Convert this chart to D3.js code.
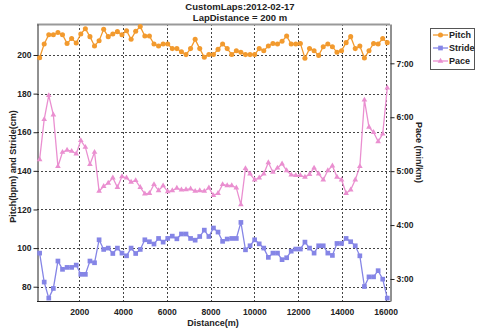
<!DOCTYPE html>
<html><head><meta charset="utf-8">
<script src="https://cdn.jsdelivr.net/npm/d3@7"></script>
<style>body{margin:0;background:#fff}svg{display:block}</style>
</head><body><svg id="c" width="480" height="329"></svg>
<script>
const titleLines = ["CustomLaps:2012-02-17", "LapDistance = 200 m"];
const distance = [190,399,608,817,1026,1235,1444,1653,1862,2071,2280,2489,2698,2907,3116,3325,3534,3743,3952,4161,4370,4579,4788,4997,5206,5415,5624,5833,6042,6251,6460,6669,6878,7087,7296,7505,7714,7923,8132,8341,8550,8759,8968,9177,9386,9595,9804,10013,10222,10431,10640,10849,11058,11267,11476,11685,11894,12103,12312,12521,12730,12939,13148,13357,13566,13775,13984,14193,14402,14611,14820,15029,15238,15447,15656,15865,16074];
const pitch = [198.6,205.7,210.5,210.5,211.6,210.5,206,208.5,206.2,210.9,213.6,209.5,204.7,207.4,213.3,209.5,210.9,212.1,210.5,212.6,208.1,212.3,214.7,209.8,209.8,205.7,204.7,205.7,205.7,203.3,203.3,201.7,200.2,203.3,208.1,203.3,198.8,200.3,200.3,202.9,205.7,203.3,200.3,202.2,201.4,200.2,200.2,200.2,203.3,202.2,204.7,206,205.7,207.1,209.8,205.7,205.7,206,198.3,203.3,202.2,199.8,204.3,205.7,204.3,201.4,202.2,206.4,209.5,203.3,204.7,198.4,202.2,206,205.7,208.5,206.4];
const stride = [97.4,82.4,74.1,79.1,93.3,89.0,90.0,90.0,91.2,86.4,86.4,93.3,92.4,104.3,99.3,100,97.2,100,97.4,96.0,100,97.2,99.3,104.3,103.3,102.1,105.0,103.1,105.0,106.2,104.8,107.3,107.3,105,104.1,106,109.3,106,110.4,108.3,103.5,104.7,105,105,113.3,99.1,101.2,104.3,102.2,100,95.2,97.4,97.4,94,95,98.4,99.5,99.5,103.1,100,97.4,101.2,101.2,97.4,96.2,102.4,102.4,105,103.3,101.2,96,80.1,85.1,85.1,88.3,83.9,74.1];
const pace = [5.216,5.959,6.404,6.045,5.087,5.352,5.39,5.37,5.32,5.57,5.445,5.124,5.352,4.629,4.72,4.78,4.876,4.70,4.90,4.876,4.796,4.827,4.70,4.58,4.59,4.753,4.64,4.73,4.62,4.64,4.685,4.654,4.66,4.672,4.629,4.64,4.629,4.69,4.55,4.59,4.753,4.734,4.734,4.69,4.38,5.05,4.95,4.84,4.876,4.95,5.16,4.98,5.06,5.136,5.012,4.93,4.92,4.92,4.89,4.94,5.06,4.95,4.84,5.012,5.10,4.89,4.84,4.59,4.654,4.84,5.087,6.32,5.816,5.72,5.55,5.69,6.546];
const leftTicks = [80,100,120,140,160,180,200];
const xTicks = [2000,4000,6000,8000,10000,12000,14000,16000];
const paceTicks = [3,4,5,6,7];
const seriesNames = ["Pitch","Stride","Pace"];
const colors = {Pitch:"#f29a2e", Stride:"#8585e6", Pace:"#ea8fd0"};

const FONT = "'Liberation Sans', Arial, sans-serif";
const L = 37, R = 390, T = 24, B = 301;
const svg = d3.select("#c").style("font-family", FONT);

const x = d3.scaleLinear().domain([70, 16198]).range([L, R]);
const yL = d3.scaleLinear().domain([72.6, 216.05]).range([B, T]);
const yR = d3.scaleLinear().domain([2.592, 7.729]).range([B, T]);

svg.append("rect").attr("x", L).attr("y", T).attr("width", R - L).attr("height", B - T).attr("fill", "#fff");

const grid = svg.append("g").attr("stroke", "#444").attr("stroke-width", 1).attr("stroke-dasharray", "2,2");
grid.selectAll("line.v").data(xTicks).join("line")
  .attr("x1", d => Math.round(x(d)) + 0.5).attr("x2", d => Math.round(x(d)) + 0.5)
  .attr("y1", T).attr("y2", B);
grid.selectAll("line.h").data(leftTicks).join("line")
  .attr("y1", d => Math.round(yL(d)) + 0.5).attr("y2", d => Math.round(yL(d)) + 0.5)
  .attr("x1", L).attr("x2", R);

svg.append("line").attr("x1", L).attr("x2", R).attr("y1", T + 0.5).attr("y2", T + 0.5).attr("stroke", "#999").attr("stroke-width", 2);

const tickFont = "bold 8.5px " + FONT;
const gL = svg.append("g").attr("transform", `translate(${L + 0.5},0)`)
  .call(d3.axisLeft(yL).tickValues(leftTicks).tickSize(4).tickPadding(2).tickSizeOuter(0));
const gR = svg.append("g").attr("transform", `translate(${R + 0.5},0)`)
  .call(d3.axisRight(yR).tickValues(paceTicks).tickSize(4).tickPadding(2).tickSizeOuter(0)
    .tickFormat(d => Math.floor(d) + ":" + String(Math.round((d % 1) * 60)).padStart(2, "0")));
const gB = svg.append("g").attr("transform", `translate(0,${B + 0.5})`)
  .call(d3.axisBottom(x).tickValues(xTicks).tickFormat(d3.format("d")).tickSize(0).tickPadding(7).tickSizeOuter(0));
[gL, gR, gB].forEach(g => {
  g.selectAll("text").style("font", tickFont).attr("fill", "#222");
  g.selectAll("line").attr("stroke", "#222");
  g.select(".domain").attr("stroke", "#222");
});
gB.select(".domain").attr("d", `M${L},0H${R + 0.5}`);

function drawLine(vals, yScale, color) {
  const line = d3.line().x((d, i) => x(distance[i])).y(d => yScale(d));
  svg.append("path").datum(vals).attr("d", line).attr("fill", "none")
    .attr("stroke", color).attr("stroke-width", 1.3);
}
drawLine(pitch, yL, colors.Pitch);
drawLine(stride, yL, colors.Stride);
drawLine(pace, yR, colors.Pace);

const sym = {
  Pitch: d3.symbol().type(d3.symbolCircle).size(20),
  Stride: d3.symbol().type(d3.symbolSquare).size(22),
  Pace: d3.symbol().type(d3.symbolTriangle).size(14)
};
svg.append("g").selectAll("path").data(pitch).join("path")
  .attr("transform", (d, i) => `translate(${x(distance[i])},${yL(d)})`)
  .attr("d", sym.Pitch()).attr("fill", colors.Pitch);
svg.append("g").selectAll("path").data(stride).join("path")
  .attr("transform", (d, i) => `translate(${x(distance[i])},${yL(d)})`)
  .attr("d", sym.Stride()).attr("fill", colors.Stride);
svg.append("g").selectAll("path").data(pace).join("path")
  .attr("transform", (d, i) => `translate(${x(distance[i])},${yR(d)})`)
  .attr("d", sym.Pace()).attr("fill", colors.Pace);

svg.selectAll("text.title").data(titleLines).join("text").attr("class", "title")
  .attr("x", 240).attr("y", (d, i) => 10 + i * 10.5).attr("text-anchor", "middle")
  .style("font", "bold 9.5px " + FONT).attr("fill", "#222").text(d => d);

svg.append("text").attr("transform", `translate(16,${(T + B) / 2 + 4}) rotate(-90)`)
  .attr("text-anchor", "middle").style("font", "bold 9px " + FONT).attr("fill", "#222")
  .text("Pitch(bpm) and Stride(cm)");
svg.append("text").attr("transform", `translate(416,${(T + B) / 2 - 10}) rotate(90)`)
  .attr("text-anchor", "middle").style("font", "bold 9px " + FONT).attr("fill", "#222")
  .text("Pace (min/km)");
svg.append("text").attr("x", 213).attr("y", 326).attr("text-anchor", "middle")
  .style("font", "bold 9px " + FONT).attr("fill", "#222").text("Distance(m)");

const lg = svg.append("g");
lg.append("rect").attr("x", 430.5).attr("y", 28.5).attr("width", 44).attr("height", 41)
  .attr("fill", "#fff").attr("stroke", "#555");
seriesNames.forEach((n, i) => {
  const yy = 35 + i * 13;
  lg.append("line").attr("x1", 433).attr("x2", 448).attr("y1", yy).attr("y2", yy)
    .attr("stroke", colors[n]).attr("stroke-width", 1.3);
  lg.append("path").attr("transform", `translate(440.5,${yy})`).attr("d", sym[n]()).attr("fill", colors[n]);
  lg.append("text").attr("x", 449).attr("y", yy + 3).style("font", "bold 9px " + FONT)
    .attr("fill", "#222").text(n);
});
</script>
</body></html>
